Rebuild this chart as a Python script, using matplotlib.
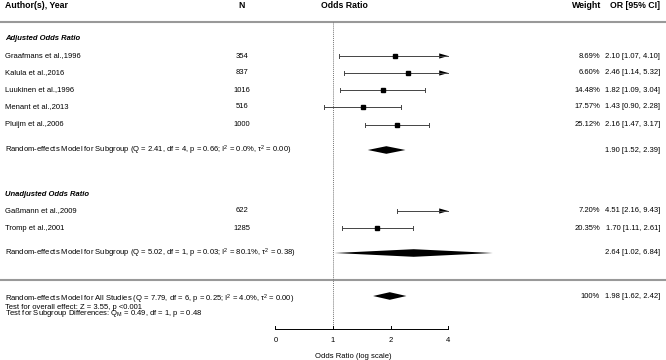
import numpy as np
import matplotlib
matplotlib.use("Agg")
import matplotlib.pyplot as plt
from matplotlib.patches import Polygon

plt.rcParams['font.family'] = ['Liberation Sans', 'DejaVu Sans']
plt.rcParams['mathtext.fontset'] = 'custom'
plt.rcParams['mathtext.rm'] = 'Liberation Sans'
plt.rcParams['mathtext.it'] = 'Liberation Sans:italic'

# study level data
adj_names = ["Graafmans et al.,1996", "Kalula et al.,2016", "Luukinen et al.,1996",
             "Menant et al.,2013", "Pluijm et al.,2006"]
adj_n = [354, 837, 1016, 516, 1000]
adj_or = [2.10, 2.46, 1.82, 1.43, 2.16]
adj_lo = [1.07, 1.14, 1.09, 0.90, 1.47]
adj_hi = [4.10, 5.32, 3.04, 2.28, 3.17]
adj_w = [8.69, 6.60, 14.48, 17.57, 25.12]

unadj_names = ["Gaßmann et al.,2009", "Tromp et al.,2001"]
unadj_n = [622, 1285]
unadj_or = [4.51, 1.70]
unadj_lo = [2.16, 1.11]
unadj_hi = [9.43, 2.61]
unadj_w = [7.20, 20.35]

# pooled estimates (est, lo, hi)
pooled_adj = (1.90, 1.52, 2.39)
pooled_unadj = (2.64, 1.02, 6.84)
pooled_all = (1.98, 1.62, 2.42)

ticks = [0.5, 1, 2, 4]
tick_labels = ["0", "1", "2", "4"]

# row positions (pixel rows, top = 0)
rows_adj = [56, 73, 90, 107, 125]
rows_unadj = [211, 228]
row_sub_adj = 150
row_sub_unadj = 253
row_all = 296

W, H = 666, 360
fig = plt.figure(figsize=(W / 100, H / 100), dpi=100)
tax = fig.add_axes([0, 0, 1, 1])
tax.set_xlim(0, W)
tax.set_ylim(H, 0)
tax.axis('off')

ax = fig.add_axes([0, 0, 1, 1], sharey=tax)
ax.patch.set_alpha(0)
ax.set_xscale('log', base=2)
px_unit = 57.6
x_one = 333
ax.set_xlim(2 ** (-x_one / px_unit), 2 ** ((W - x_one) / px_unit))
ax.axis('off')

fs = 5.5
hfs = 6.3
xmax = 4.0
line_col = '#444444'
cap = 2.0


def draw_ci(y, est, lo, hi):
    ax.plot([lo, min(hi, xmax)], [y, y], color=line_col, lw=0.7)
    ax.plot([lo, lo], [y - cap, y + cap], color=line_col, lw=0.7)
    if hi > xmax:
        arr_len = 2 ** (9 / px_unit)
        tri = Polygon([[xmax / arr_len, y - 2.6], [xmax, y], [xmax / arr_len, y + 2.6]],
                      closed=True, color='black', lw=0)
        ax.add_patch(tri)
    else:
        ax.plot([hi, hi], [y - cap, y + cap], color=line_col, lw=0.7)
    if est <= xmax:
        ax.plot(est, y, marker='s', ms=2.6, color='black', mec='black')


def draw_diamond(y, est, lo, hi, h=3.8):
    d = Polygon([[lo, y], [est, y - h], [hi, y], [est, y + h]], closed=True,
                color='black', lw=0)
    ax.add_patch(d)


# header
tax.text(5, 5, "Author(s), Year", fontsize=hfs, fontweight='bold', va='center', ha='left')
tax.text(242, 5, "N", fontsize=hfs, fontweight='bold', va='center', ha='center')
tax.text(344, 5, "Odds Ratio", fontsize=hfs, fontweight='bold', va='center', ha='center')
tax.text(601, 5, "Weight", fontsize=hfs, fontweight='bold', va='center', ha='right')
tax.text(660, 5, "OR [95% CI]", fontsize=hfs, fontweight='bold', va='center', ha='right')

tax.plot([0, W], [22, 22], color='#999999', lw=1.5)
tax.plot([0, W], [280, 280], color='#999999', lw=1.5)
ax.plot([1, 1], [22, 329], color='#777777', lw=0.7, ls=(0, (1, 1)))


def study_rows(names, ns, ors, los, his, ws, rows):
    for name, n, o, lo, hi, w, y in zip(names, ns, ors, los, his, ws, rows):
        tax.text(5, y, name, fontsize=fs, va='center', ha='left')
        tax.text(242, y, str(n), fontsize=fs, va='center', ha='center')
        tax.text(600, y, f"{w:.2f}%", fontsize=fs, va='center', ha='right')
        tax.text(660, y, f"{o:.2f} [{lo:.2f}, {hi:.2f}]", fontsize=fs, va='center', ha='right')
        draw_ci(y, o, lo, hi)


tax.text(5, 39, "Adjusted Odds Ratio", fontsize=fs, fontweight='bold', style='italic',
         va='center', ha='left')
study_rows(adj_names, adj_n, adj_or, adj_lo, adj_hi, adj_w, rows_adj)
tax.text(5, row_sub_adj, "Random-effects Model for Subgroup (Q = 2.41, df = 4, p = 0.66; "
         "I$^2$ = 0.0%, τ$^2$ = 0.00)", fontsize=fs, va='center', ha='left')
tax.text(660, row_sub_adj, "%.2f [%.2f, %.2f]" % pooled_adj, fontsize=fs, va='center', ha='right')
draw_diamond(row_sub_adj, *pooled_adj)

tax.text(5, 194, "Unadjusted Odds Ratio", fontsize=fs, fontweight='bold', style='italic',
         va='center', ha='left')
study_rows(unadj_names, unadj_n, unadj_or, unadj_lo, unadj_hi, unadj_w, rows_unadj)
tax.text(5, row_sub_unadj, "Random-effects Model for Subgroup (Q = 5.02, df = 1, p = 0.03; "
         "I$^2$ = 80.1%, τ$^2$ = 0.38)", fontsize=fs, va='center', ha='left')
tax.text(660, row_sub_unadj, "%.2f [%.2f, %.2f]" % pooled_unadj, fontsize=fs, va='center', ha='right')
draw_diamond(row_sub_unadj, *pooled_unadj)

# overall block: three tight lines as one text
overall_txt = ("Random-effects Model for All Studies (Q = 7.79, df = 6, p = 0.25; "
               "I$^2$ = 4.0%, τ$^2$ = 0.00)\n"
               "Test for overall effect: Z = 3.55, p <0.001\n"
               "Test for Subgroup Differences: Q$_\\mathregular{M}$ = 0.49, df = 1, p = 0.48")
tax.text(5, row_all - 3.5, overall_txt, fontsize=fs, va='top', ha='left', linespacing=0.6)
tax.text(600, row_all, "100%", fontsize=fs, va='center', ha='right')
tax.text(660, row_all, "%.2f [%.2f, %.2f]" % pooled_all, fontsize=fs, va='center', ha='right')
draw_diamond(row_all, *pooled_all)

# x axis
axis_y = 329
ax.plot([ticks[0], ticks[-1]], [axis_y, axis_y], color='black', lw=0.7)
for t, lab in zip(ticks, tick_labels):
    ax.plot([t, t], [axis_y, axis_y - 3.5], color='black', lw=0.7)
    ax.text(t, 341, lab, fontsize=fs, va='center', ha='center')
tax.text(353, 356, "Odds Ratio (log scale)", fontsize=fs, va='center', ha='center')

fig.savefig("out.png", dpi=100)
